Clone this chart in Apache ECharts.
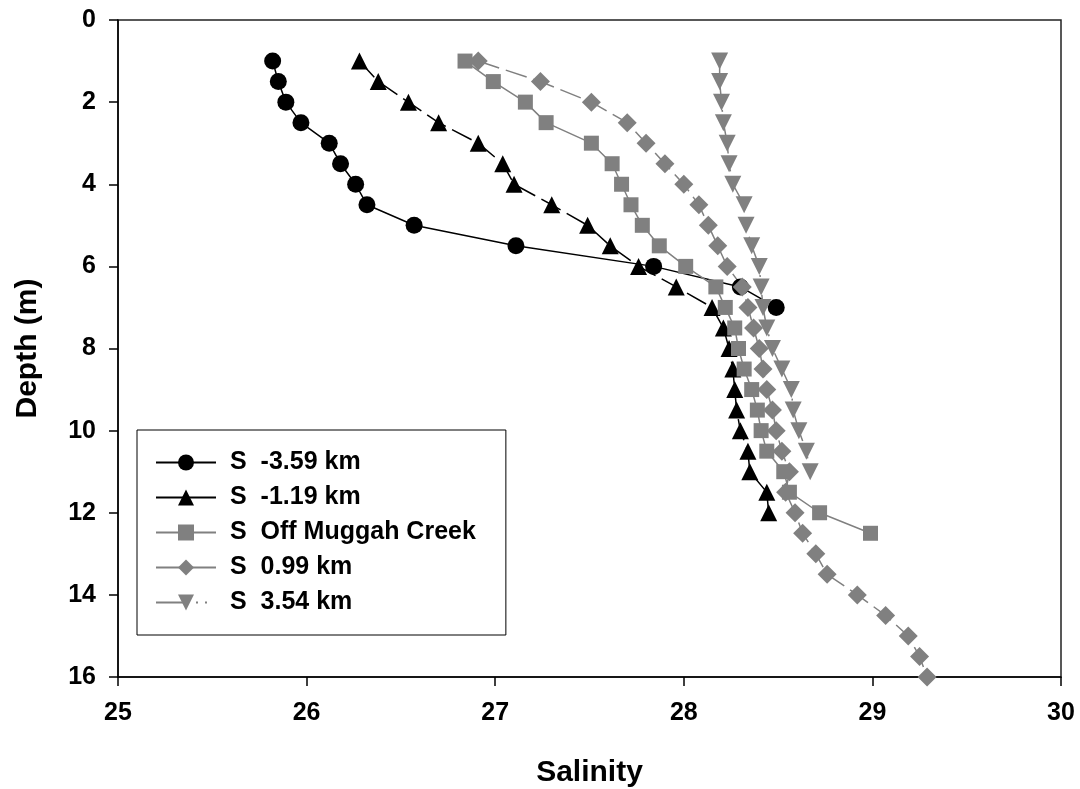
<!DOCTYPE html>
<html>
<head>
<meta charset="utf-8">
<script src="https://cdn.jsdelivr.net/npm/echarts@6/dist/echarts.min.js"></script>
<style>
  html, body { margin: 0; padding: 0; background: #fff; }
  #chart { width: 1080px; height: 789px; }
</style>
</head>
<body>
<div id="chart"></div>
<script>
// depth (m) and salinity for each station
const depthA = [1, 1.5, 2, 2.5, 3, 3.5, 4, 4.5, 5, 5.5, 6, 6.5, 7];
const salA = [25.82, 25.85, 25.89, 25.97, 26.12, 26.18, 26.26, 26.32, 26.57, 27.11, 27.84, 28.30, 28.49];

const depthB = [1, 1.5, 2, 2.5, 3, 3.5, 4, 4.5, 5, 5.5, 6, 6.5, 7, 7.5, 8, 8.5, 9, 9.5, 10, 10.5, 11, 11.5, 12];
const salB = [26.28, 26.38, 26.54, 26.70, 26.91, 27.04, 27.10, 27.30, 27.49, 27.61, 27.76, 27.96, 28.15,
  28.21, 28.24, 28.26, 28.27, 28.28, 28.30, 28.34, 28.35, 28.44, 28.45];

const depthC = [1, 1.5, 2, 2.5, 3, 3.5, 4, 4.5, 5, 5.5, 6, 6.5, 7, 7.5, 8, 8.5, 9, 9.5, 10, 10.5, 11, 11.5, 12, 12.5];
const salC = [26.84, 26.99, 27.16, 27.27, 27.51, 27.62, 27.67, 27.72, 27.78, 27.87, 28.01, 28.17,
  28.22, 28.27, 28.29, 28.32, 28.36, 28.39, 28.41, 28.44, 28.53, 28.56, 28.72, 28.99];

const depthD = [1, 1.5, 2, 2.5, 3, 3.5, 4, 4.5, 5, 5.5, 6, 6.5, 7, 7.5, 8, 8.5, 9, 9.5, 10, 10.5, 11,
  11.5, 12, 12.5, 13, 13.5, 14, 14.5, 15, 15.5, 16];
const salD = [26.91, 27.24, 27.51, 27.70, 27.80, 27.90, 28.00, 28.08, 28.13, 28.18, 28.23, 28.31,
  28.34, 28.37, 28.40, 28.42, 28.44, 28.47, 28.49, 28.52, 28.56, 28.54, 28.59, 28.63, 28.70, 28.76,
  28.92, 29.07, 29.19, 29.25, 29.29];

const depthE = [1, 1.5, 2, 2.5, 3, 3.5, 4, 4.5, 5, 5.5, 6, 6.5, 7, 7.5, 8, 8.5, 9, 9.5, 10, 10.5, 11];
const salE = [28.19, 28.19, 28.20, 28.21, 28.23, 28.24, 28.26, 28.32, 28.33, 28.36, 28.40, 28.41,
  28.42, 28.44, 28.47, 28.52, 28.57, 28.58, 28.61, 28.65, 28.67];

const names = ["S  -3.59 km", "S  -1.19 km", "S  Off Muggah Creek", "S  0.99 km", "S  3.54 km"];

const font = "'Liberation Sans', Arial, sans-serif";
const gray = "#808080";
const dashDot = [33, 7, 2, 7, 2, 9];

function pairs(sal, depth) {
  return sal.map((s, i) => [s, depth[i]]);
}

const option = {
  backgroundColor: "#fff",
  animation: false,
  grid: {
    left: 118,
    right: 19,
    top: 20,
    bottom: 112,
    outerBoundsMode: "none",
    show: true,
    borderColor: "#222",
    borderWidth: 1.5
  },
  legend: {
    orient: "vertical",
    left: 137,
    top: 430,
    backgroundColor: "#fff",
    borderColor: "#000",
    borderWidth: 1,
    padding: [20, 30, 20, 18],
    itemWidth: 60,
    itemHeight: 20,
    itemGap: 10,
    textStyle: {
      fontFamily: font,
      fontWeight: "bold",
      fontSize: 25,
      lineHeight: 24,
      padding: [0, 0, 0, 9],
      color: "#000"
    },
    data: [
      { name: names[0] },
      { name: names[1], lineStyle: { type: "solid" } },
      { name: names[2] },
      { name: names[3], lineStyle: { type: "solid" } },
      { name: names[4] }
    ]
  },
  xAxis: {
    type: "value",
    min: 25,
    max: 30,
    interval: 1,
    name: "Salinity",
    nameLocation: "middle",
    nameGap: 81,
    nameTextStyle: { fontFamily: font, fontWeight: "bold", fontSize: 30, color: "#000" },
    axisLine: { onZero: false, lineStyle: { color: "#000", width: 1.5 } },
    axisTick: { length: 9, lineStyle: { color: "#000", width: 1.5 } },
    axisLabel: { margin: 24, fontFamily: font, fontWeight: "bold", fontSize: 25, color: "#000" },
    splitLine: { show: false }
  },
  yAxis: {
    type: "value",
    inverse: true,
    min: 0,
    max: 16,
    interval: 2,
    name: "Depth (m)",
    nameLocation: "middle",
    nameGap: 75,
    nameTextStyle: { fontFamily: font, fontWeight: "bold", fontSize: 30, color: "#000" },
    axisLine: { onZero: false, lineStyle: { color: "#000", width: 1.5 } },
    axisTick: { length: 9, lineStyle: { color: "#000", width: 1.5 } },
    axisLabel: { margin: 22, fontFamily: font, fontWeight: "bold", fontSize: 25, color: "#000" },
    splitLine: { show: false }
  },
  series: [
    {
      name: names[0],
      type: "line",
      symbol: "circle",
      symbolSize: 17,
      itemStyle: { color: "#000" },
      lineStyle: { color: "#000", width: 1.5 },
      data: pairs(salA, depthA)
    },
    {
      name: names[1],
      type: "line",
      symbol: "triangle",
      symbolSize: 17,
      itemStyle: { color: "#000" },
      lineStyle: { color: "#000", width: 1.5, type: [22, 7] },
      data: pairs(salB, depthB)
    },
    {
      name: names[2],
      type: "line",
      symbol: "rect",
      symbolSize: 15,
      itemStyle: { color: gray },
      lineStyle: { color: gray, width: 1.5 },
      data: pairs(salC, depthC)
    },
    {
      name: names[3],
      type: "line",
      symbol: "diamond",
      symbolSize: 19,
      itemStyle: { color: gray },
      lineStyle: { color: gray, width: 1.5, type: [22, 7] },
      data: pairs(salD, depthD)
    },
    {
      name: names[4],
      type: "line",
      symbol: "triangle",
      symbolRotate: 180,
      symbolSize: 17,
      itemStyle: { color: gray },
      lineStyle: { color: gray, width: 1.5, type: dashDot },
      data: pairs(salE, depthE)
    }
  ]
};

const chart = echarts.init(document.getElementById("chart"));
chart.setOption(option);
</script>
</body>
</html>
